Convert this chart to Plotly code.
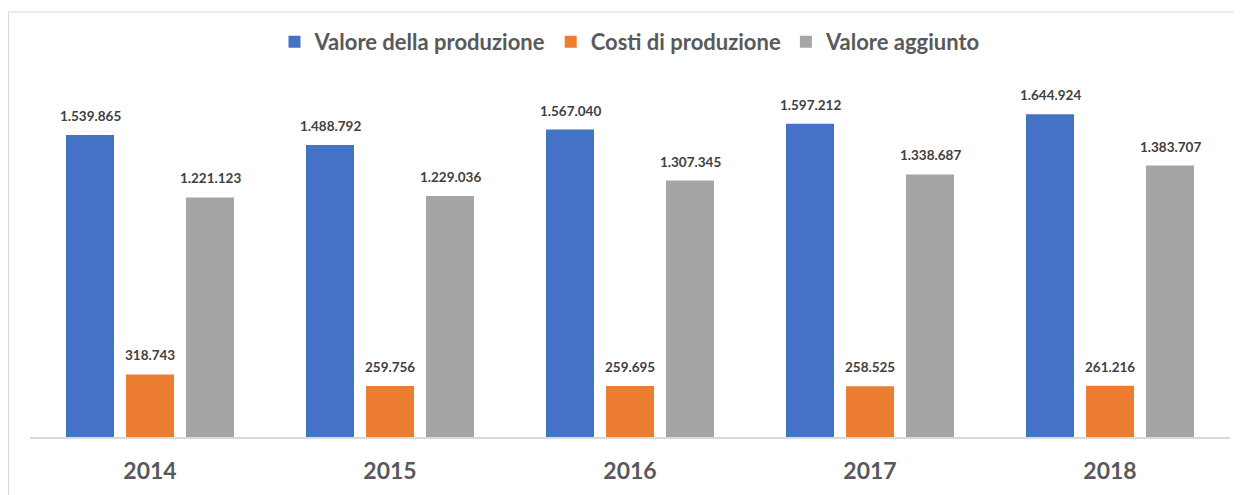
import plotly.graph_objects as go

years = ["2014", "2015", "2016", "2017", "2018"]
valore_produzione = [1539865, 1488792, 1567040, 1597212, 1644924]
costi_produzione = [318743, 259756, 259695, 258525, 261216]
valore_aggiunto = [1221123, 1229036, 1307345, 1338687, 1383707]

series = [
    ("Valore della produzione", valore_produzione, "#4472C4"),
    ("Costi di produzione", costi_produzione, "#ED7D31"),
    ("Valore aggiunto", valore_aggiunto, "#A5A5A5"),
]

def fmt(v):
    return f"{v:,}".replace(",", ".")

fig = go.Figure()
annotations = []
offsets = [-0.25, 0.0, 0.25]
for (name, vals, color), off in zip(series, offsets):
    fig.add_trace(go.Bar(
        name=name, x=list(range(len(years))), y=vals,
        marker=dict(color=color, line=dict(width=0)),
        hoverinfo="y+name",
    ))
    for i, v in enumerate(vals):
        annotations.append(dict(
            x=i + off, y=v, xref="x", yref="y",
            text=f"<b>{fmt(v)}</b>", showarrow=False,
            yanchor="bottom", yshift=9,
            font=dict(family="Lato", size=13.5, color="#404040"),
        ))

# page body has an 8px margin, so figure coordinates are page - 8
fig.update_layout(
    width=1241, height=495,
    margin=dict(l=22, r=19, t=72, b=66, autoexpand=False),
    paper_bgcolor="white", plot_bgcolor="white",
    barmode="group", bargap=0.25, bargroupgap=0.2,
    font=dict(family="Lato", color="#595959"),
    legend=dict(
        orientation="h", x=0.5, xanchor="center",
        yref="container", y=1 - 34 / 495, yanchor="middle",
        font=dict(family="Lato", size=22, color="#595959", weight="bold"),
        itemwidth=30, bgcolor="rgba(0,0,0,0)",
    ),
    xaxis=dict(
        showgrid=False, showline=True, linecolor="#d9d9d9", linewidth=2,
        tickmode="array", tickvals=list(range(len(years))), ticktext=years,
        range=[-0.5, len(years) - 0.5],
        ticks="outside", ticklen=12, tickcolor="rgba(0,0,0,0)",
        tickfont=dict(family="Lato", size=23, color="#595959", weight="bold"),
    ),
    yaxis=dict(range=[0, 1820000], visible=False, showgrid=False, zeroline=False),
    annotations=annotations,
    shapes=[dict(
        type="rect", xref="paper", yref="paper",
        x0=-0.0179, x1=1.05, y0=-0.3, y1=1.1905,
        line=dict(color="#d9d9d9", width=1), fillcolor="rgba(0,0,0,0)", layer="below",
    )],
    showlegend=True,
)

fig.write_html("out.html")
